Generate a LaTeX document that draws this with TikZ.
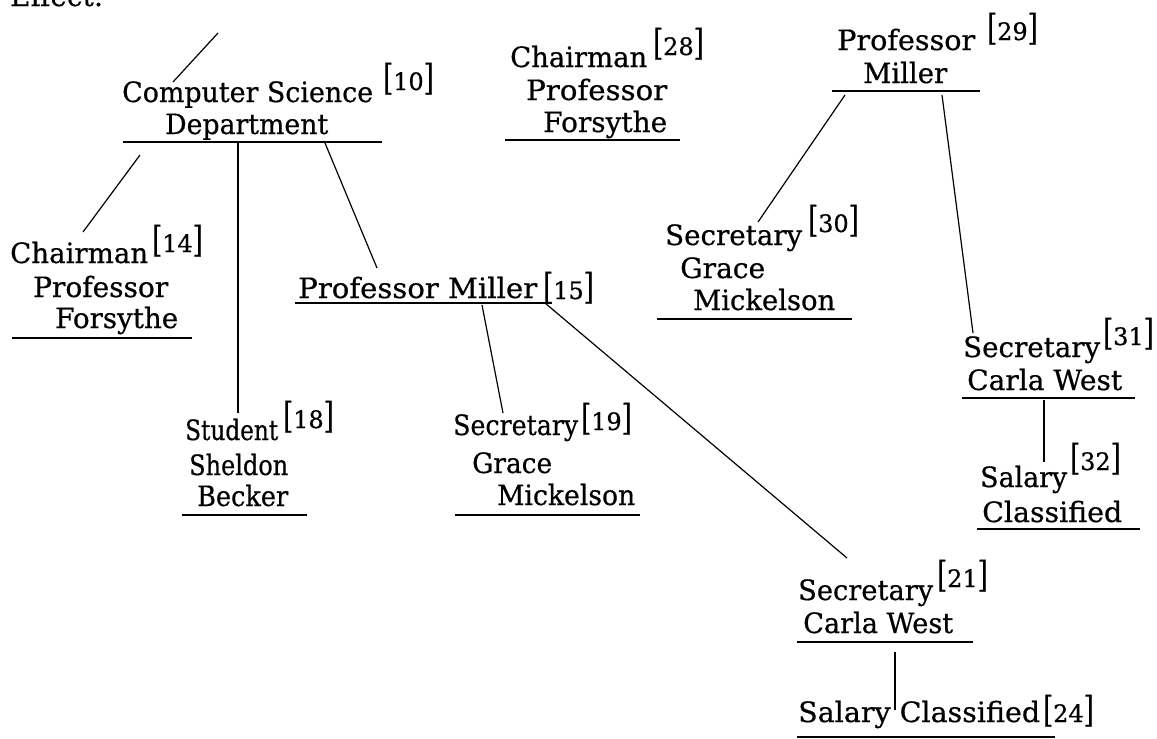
\documentclass[tikz,border=0pt]{standalone}
\usepackage{fontspec}
\usepackage{graphicx}
\setmainfont{DejaVu Serif}[FakeBold=0.6]

% main text size and a bracketed reference number
\newcommand\mainfnt{\fontsize{28}{32}\selectfont}
\newcommand\brk[1]{{\fontsize{32}{32}\selectfont\scalebox{0.8}[1.12]{#1}}}
\newcommand\refmark[1]{\brk{[}{\fontsize{24}{24}\selectfont #1}\brk{]}}
% set a line of text to a given width, keeping its height
\newcommand\fitw[2]{\resizebox{#1pt}{\height}{#2}}

\tikzset{
  txt/.style={anchor=base west, inner sep=0pt, font=\mainfnt},
  sup/.style={anchor=base west, inner sep=0pt},
  uline/.style={line width=1.8pt},
  link/.style={line width=1.2pt}
}

\begin{document}
\begin{tikzpicture}[x=1pt,y=-1pt]
\useasboundingbox (0,0) rectangle (1157,739);
\clip (0,0) rectangle (1157,739);
\fill[white] (0,0) rectangle (1157,739);

% heading, running off the top edge
\node[txt] (effect) at (10,6) {\fitw{93}{Effect:}};

% ---- Computer Science Department [10]
\node[txt] (cs1) at (122,102) {\fitw{251}{Computer Science}};
\node[txt] (cs2) at (165,134) {\fitw{163}{Department}};
\node[sup] (csref) at (383,90) {\refmark{10}};
\coordinate (csW) at (123,142); \coordinate (csE) at (382,142);
\coordinate (csIn) at (173,82); \coordinate (csUp) at (218,33);
\coordinate (csA) at (140,155); \coordinate (csB) at (238,142); \coordinate (csC) at (325,143);

% ---- Chairman Professor Forsythe [14]
\node[txt] (ch1) at (10,263) {\fitw{138}{Chairman}};
\node[txt] (ch2) at (33,297) {\fitw{135}{Professor}};
\node[txt] (ch3) at (55,328) {\fitw{123}{Forsythe}};
\node[sup] (chref) at (152,252) {\refmark{14}};
\coordinate (chW) at (12,338); \coordinate (chE) at (192,338);
\coordinate (chIn) at (83,232);

% ---- Student Sheldon Becker [18]
\node[txt] (st1) at (185,440) {\fitw{93}{Student}};
\node[txt] (st2) at (189,475) {\fitw{99}{Sheldon}};
\node[txt] (st3) at (197,506) {\fitw{91}{Becker}};
\node[sup] (stref) at (283,428) {\refmark{18}};
\coordinate (stW) at (182,515); \coordinate (stE) at (307,515);
\coordinate (stIn) at (238,413);

% ---- Professor Miller [15]
\node[txt] (pm1) at (298,298) {\fitw{239}{Professor Miller}};
\node[sup] (pmref) at (543,299) {\refmark{15}};
\coordinate (pmW) at (295,303); \coordinate (pmE) at (552,303);
\coordinate (pmIn) at (377,268);
\coordinate (pmA) at (482,305); \coordinate (pmB) at (545,303);

% ---- Secretary Grace Mickelson [19]
\node[txt] (sg1) at (453,435) {\fitw{125}{Secretary}};
\node[txt] (sg2) at (472,473) {\fitw{80}{Grace}};
\node[txt] (sg3) at (497,505) {\fitw{138}{Mickelson}};
\node[sup] (sgref) at (581,430) {\refmark{19}};
\coordinate (sgW) at (455,515); \coordinate (sgE) at (640,515);
\coordinate (sgIn) at (503,413);

% ---- Secretary Carla West [21]
\node[txt] (sc1) at (798,600) {\fitw{135}{Secretary}};
\node[txt] (sc2) at (803,633) {\fitw{150}{Carla West}};
\node[sup] (scref) at (937,587) {\refmark{21}};
\coordinate (scW) at (797,642); \coordinate (scE) at (973,642);
\coordinate (scIn) at (847,558); \coordinate (scOut) at (895,652);

% ---- Salary Classified [24]
\node[txt] (sa1) at (798,722) {\fitw{242}{Salary Classified}};
\node[sup] (saref) at (1043,722) {\refmark{24}};
\coordinate (saW) at (797,737); \coordinate (saE) at (1055,737);
\coordinate (saIn) at (895,710);

% ---- Chairman Professor Forsythe [28]
\node[txt] (cf1) at (510,67) {\fitw{137}{Chairman}};
\node[txt] (cf2) at (526,100) {\fitw{141}{Professor}};
\node[txt] (cf3) at (543,132) {\fitw{124}{Forsythe}};
\node[sup] (cfref) at (653,55) {\refmark{28}};
\coordinate (cfW) at (505,140); \coordinate (cfE) at (680,140);

% ---- Professor Miller [29]
\node[txt] (pr1) at (837,50) {\fitw{138}{Professor}};
\node[txt] (pr2) at (863,83) {\fitw{84}{Miller}};
\node[sup] (prref) at (987,40) {\refmark{29}};
\coordinate (prW) at (832,91); \coordinate (prE) at (980,91);
\coordinate (prA) at (845,95); \coordinate (prB) at (942,95);

% ---- Secretary Grace Mickelson [30]
\node[txt] (gm1) at (665,245) {\fitw{137}{Secretary}};
\node[txt] (gm2) at (680,278) {\fitw{85}{Grace}};
\node[txt] (gm3) at (693,310) {\fitw{142}{Mickelson}};
\node[sup] (gmref) at (808,232) {\refmark{30}};
\coordinate (gmW) at (657,319); \coordinate (gmE) at (852,319);
\coordinate (gmIn) at (758,222);

% ---- Secretary Carla West [31]
\node[txt] (cw1) at (963,357) {\fitw{137}{Secretary}};
\node[txt] (cw2) at (967,390) {\fitw{155}{Carla West}};
\node[sup] (cwref) at (1103,345) {\refmark{31}};
\coordinate (cwW) at (962,398); \coordinate (cwE) at (1135,398);
\coordinate (cwIn) at (973,333); \coordinate (cwOut) at (1044,400);

% ---- Salary Classified [32]
\node[txt] (sl1) at (980,487) {\fitw{87}{Salary}};
\node[txt] (sl2) at (982,522) {\fitw{140}{Classified}};
\node[sup] (slref) at (1070,470) {\refmark{32}};
\coordinate (slW) at (977,529); \coordinate (slE) at (1140,529);
\coordinate (slIn) at (1044,462);

% underlines
\foreach \e in {cs,ch,st,pm,sg,sc,sa,cf,pr,gm,cw,sl}
  \draw[uline] (\e W) -- (\e E);

% connectors
\draw[link] (csUp) -- (csIn);
\draw[link] (csA) -- (chIn);
\draw[link] (csB) -- (stIn);
\draw[link] (csC) -- (pmIn);
\draw[link] (pmA) -- (sgIn);
\draw[link] (pmB) -- (scIn);
\draw[link] (scOut) -- (saIn);
\draw[link] (prA) -- (gmIn);
\draw[link] (prB) -- (cwIn);
\draw[link] (cwOut) -- (slIn);
\end{tikzpicture}
\end{document}
